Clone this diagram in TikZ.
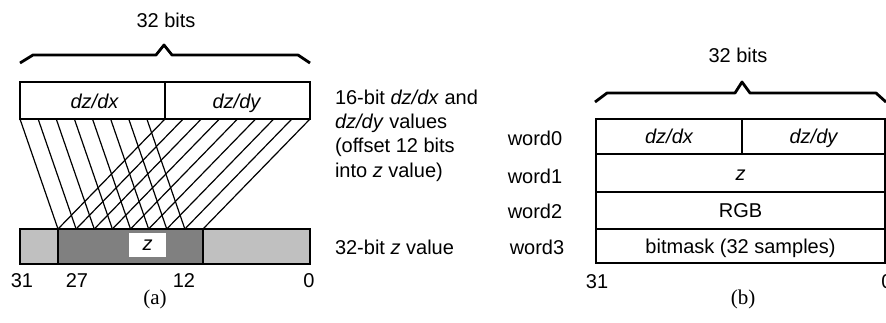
\documentclass[tikz,border=0pt]{standalone}
\usepackage{fontspec}
\setmainfont{Liberation Sans}
\newfontfamily\capfont{Liberation Serif}
\usetikzlibrary{calc}
\definecolor{lightfield}{RGB}{192,192,192}
\definecolor{darkfield}{RGB}{128,128,128}
\begin{document}
\begin{tikzpicture}[x=1pt,y=-1pt,
  every node/.style={font=\fontsize{20}{24}\selectfont, inner sep=0pt, outer sep=0pt},
  cell/.style={draw, line width=1.8pt, anchor=north west, rectangle},
  zcell/.style={cell, line width=2.2pt},
  brace/.style={line width=2.8pt, line join=round},
  wire/.style={line width=1.2pt},
  lbl/.style={anchor=base},
  note/.style={anchor=base west},
  sublabel/.style={anchor=base, font=\capfont\fontsize{21}{25}\selectfont}]
\useasboundingbox (0,0) rectangle (886,322);

% ---------- (a) z value layout ----------
\node[lbl] (bitsa) at (166,27) {32 bits};
\draw[brace] (20,63) -- (33,55) -- (156,55) -- (164,45) -- (172,55) -- (298,55) -- (310,63);

\node[cell, minimum width=145, minimum height=37] (dzdx) at (20,82) {};
\node[cell, minimum width=145, minimum height=37] (dzdy) at (165,82) {};
\node[lbl] at ($(dzdx.center)+(2,8)$) {\itshape dz/dx};
\node[lbl] at ($(dzdy.center)+(-1,8)$) {\itshape dz/dy};

\node[zcell, fill=lightfield, minimum width=38, minimum height=35] (zl) at (20,229) {};
\node[zcell, fill=darkfield, minimum width=145, minimum height=35] (zmid) at (58,229) {};
\node[zcell, fill=lightfield, minimum width=107, minimum height=35] (zr) at (203,229) {};
\node[fill=white, minimum width=37, minimum height=24] (zlab) at (147.5,245) {\itshape z};

% slope fields feeding bits 27..12
\foreach \i in {0,...,7}
  \draw[wire] ($(dzdx.south west)!\i/8!(dzdx.south east)$) -- ($(zmid.north west)!\i/8!(zmid.north east)$);
\foreach \j in {0,...,8}
  \draw[wire] ($(dzdy.south west)!\j/8!(dzdy.south east)$) -- ($(zmid.north west)!\j/8!(zmid.north east)$);

\node[lbl] at (22,287) {31};
\node[lbl] at (77,287) {27};
\node[lbl] at (184,287) {12};
\node[lbl] at (309,287) {0};
\node[sublabel] at (155,304) {(a)};

\node[note] at (335,104) {16-bit \textit{dz/dx} and};
\node[note] at (335,128) {\textit{dz/dy} values};
\node[note] at (335,152) {(offset 12 bits};
\node[note] at (335,177) {into \textit{z} value)};
\node[note] at (335,254) {32-bit \textit{z} value};

% ---------- (b) sample record ----------
\node[lbl] (bitsb) at (738,62) {32 bits};
\draw[brace] (595,102) -- (607,93) -- (735,93) -- (742,82) -- (750,93) -- (876,93) -- (886,102);

\node[cell, minimum width=146, minimum height=35] (w0a) at (596,119) {};
\node[cell, minimum width=143, minimum height=35] (w0b) at (742,119) {};
\node[cell, minimum width=289, minimum height=38] (w1) at (596,154) {};
\node[cell, minimum width=289, minimum height=37] (w2) at (596,192) {};
\node[cell, minimum width=289, minimum height=34] (w3) at (596,229) {};

\node[lbl] at ($(w0a.center)+(0,7)$) {\itshape dz/dx};
\node[lbl] at ($(w0b.center)+(0,7)$) {\itshape dz/dy};
\node[lbl] at ($(w1.center)+(0,7)$) {\itshape z};
\node[lbl] at ($(w2.center)+(0,7)$) {RGB};
\node[lbl] at ($(w3.center)+(0,7)$) {bitmask (32 samples)};

\node[lbl] at (535,145) {word0};
\node[lbl] at (535,183) {word1};
\node[lbl] at (535,218) {word2};
\node[lbl] at (537,254) {word3};

\node[lbl] at (597,288) {31};
\node[lbl] at (887,288) {0};
\node[sublabel] at (743,304) {(b)};
\end{tikzpicture}
\end{document}
